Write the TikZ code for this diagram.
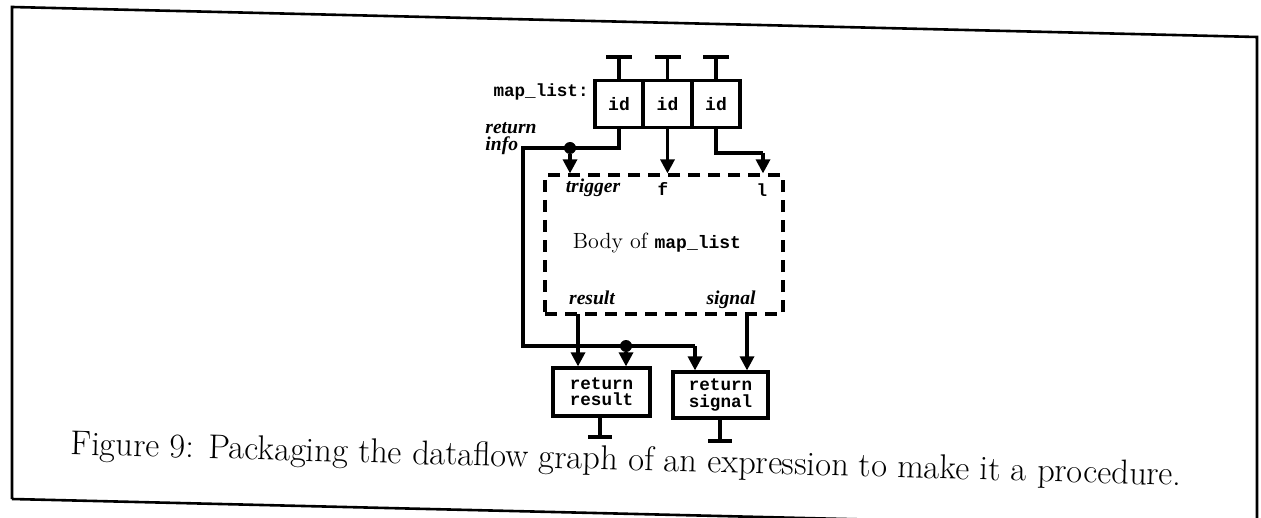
\documentclass[tikz,border=0pt]{standalone}
\usepackage{fontspec}
\newfontfamily\ttb{Liberation Mono}
\newfontfamily\bit{Liberation Serif}
\usetikzlibrary{arrows.meta}
\begin{document}
\begin{tikzpicture}[x=0.5pt,y=-0.5pt,
  ln/.style={line width=1.6pt},
  arr/.style={line width=1.6pt,-{Triangle[length=7pt,width=7pt]}},
  idbox/.style={draw,line width=1.6pt,minimum width=24pt,minimum height=23.5pt,inner sep=0pt,font=\ttb\bfseries\fontsize{9}{9}\selectfont},
  retbox/.style={draw,line width=1.6pt,inner sep=0pt,align=center,font=\ttb\bfseries\fontsize{8.8}{8.2}\selectfont},
  lbl/.style={font=\bit\bfseries\itshape\fontsize{9.8}{8.5}\selectfont,inner sep=0pt},
  ttl/.style={font=\ttb\bfseries\fontsize{8.8}{9}\selectfont,inner sep=0pt},
  dotn/.style={circle,fill,inner sep=0pt,minimum size=6pt},
  bodybox/.style={draw,line width=1.6pt,dash pattern=on 6pt off 4pt,minimum width=119pt,minimum height=69.5pt,inner sep=0pt}]
\useasboundingbox (0,0) rectangle (1261,518);
\clip (0,0) rectangle (1261,518);
% frame
\draw[line width=1.3pt] (12,499) -- (12,7) -- (1257,37) -- (1257,540);
\draw[line width=1.3pt] (12,499) -- (1261,529);
% id boxes
\node[idbox] (id1) at (619,104) {id};
\node[idbox] (id2) at (667.5,104) {id};
\node[idbox] (id3) at (716,104) {id};
\node[ttl,anchor=east] (ml) at (589,92) {map\_list:};
% top terminators
\coordinate (t1) at (619,57);
\coordinate (t2) at (667.5,57);
\coordinate (t3) at (716,57);
\draw[ln] (id1.north) -- (t1);
\draw[ln] (id2.north) -- (t2);
\draw[ln] (id3.north) -- (t3);
\draw[ln] ([xshift=-6.5pt]t1) -- ([xshift=6.5pt]t1);
\draw[ln] ([xshift=-6.5pt]t2) -- ([xshift=6.5pt]t2);
\draw[ln] ([xshift=-6.5pt]t3) -- ([xshift=6.5pt]t3);
% body
\node[bodybox] (body) at (664,244.5) {};
\node[font=\fontsize{11}{12}\selectfont,inner sep=0pt] (bt) at (657,243) {Body of {\ttb\bfseries\fontsize{9}{10}\selectfont map\_list}};
\node[lbl] (trig) at (593,188) {trigger};
\node[ttl] (fl) at (663,189) {f};
\node[ttl] (ll) at (762,190) {l};
\node[lbl] (res) at (592,298) {result};
\node[lbl] (sig) at (731,300) {signal};
\node[lbl,anchor=north west,align=left] (ri) at (485,122) {return\\info};
% return boxes
\node[retbox,minimum width=48.5pt,minimum height=24pt] (rres) at (601.5,392) {return\\result};
\node[retbox,minimum width=47.5pt,minimum height=23pt] (rsig) at (720.5,395) {return\\signal};
% dots and routing
\node[dotn] (d1) at (570,148) {};
\node[dotn] (d2) at (626,346) {};
\coordinate (c1) at (523,148);
\coordinate (c2) at (523,346);
\coordinate (c3) at (695,346);
\coordinate (c4) at (716,153);
\coordinate (c5) at (763,153);
\draw[ln] (id1.south) |- (c1) -- (c2) -- (c3);
\draw[arr] (c3) -- (c3 |- rsig.north);
\draw[arr] (d1) -- (d1 |- body.north);
\draw[arr] (d2) -- (d2 |- rres.north);
\draw[arr] (id2.south) -- (id2.south |- body.north);
\draw[ln] (id3.south) -- (c4) -- (c5);
\draw[arr] (c5) -- (c5 |- body.north);
\coordinate (o1) at (578,314);
\coordinate (o2) at (747,314);
\draw[arr] (o1) -- (o1 |- rres.north);
\draw[arr] (o2) -- (o2 |- rsig.north);
% bottom terminators
\coordinate (b1) at (600,437);
\coordinate (b2) at (720,441);
\draw[ln] (b1 |- rres.south) -- (b1);
\draw[ln] (b2 |- rsig.south) -- (b2);
\draw[ln] ([xshift=-6pt]b1) -- ([xshift=6pt]b1);
\draw[ln] ([xshift=-6pt]b2) -- ([xshift=6pt]b2);
% caption
\node[rotate=-1.6,anchor=base,font=\fontsize{17.2}{20}\selectfont,inner sep=0pt] (cap) at (626,470) {Figure 9: Packaging the dataflow graph of an expression to make it a procedure.};
\end{tikzpicture}
\end{document}
